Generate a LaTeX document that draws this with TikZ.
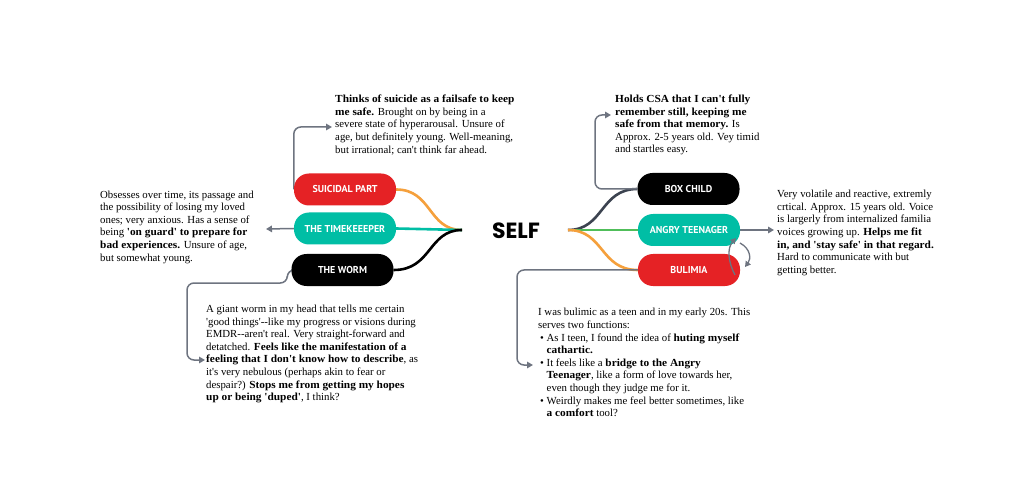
\documentclass[tikz,border=0pt]{standalone}
\usepackage{fontspec}
\setmainfont{Liberation Serif}[Ligatures=TeXOff, BoldFeatures={FakeStretch=1.05}]
\newfontfamily\pillfont{PT Sans}
\newfontfamily\selffont{Poppins}
\usetikzlibrary{arrows.meta,backgrounds}
\definecolor{pRed}{HTML}{E52225}
\definecolor{pTeal}{HTML}{00BEA5}
\definecolor{pBlack}{HTML}{000000}
\definecolor{cOrange}{HTML}{F5A03C}
\definecolor{cGreen}{HTML}{50BE5A}
\definecolor{cDark}{HTML}{3C4350}
\definecolor{cGray}{HTML}{6E7480}
\newcommand{\bul}{\makebox[8.5pt][l]{\hspace{2pt}\textbullet}}
\begin{document}
\begin{tikzpicture}[x=1pt,y=-1pt,
  pill/.style={rounded corners=15pt, minimum width=102pt, minimum height=32pt, inner sep=0pt,
    font=\pillfont\bfseries\fontsize{10}{12}\selectfont, text=white},
  desc/.style={anchor=west, align=left, inner sep=0pt, font=\fontsize{10.8}{12.6}\selectfont},
  conn/.style={draw=cGray, line width=1.5pt, rounded corners=7pt, -{Triangle[length=6pt,width=6.5pt]}},
  curvarr/.style={draw=cGray, line width=1.3pt, -{Triangle[length=5.5pt,width=6pt]}},
  branch/.style={line width=2.6pt},
]
\useasboundingbox (0,0) rectangle (1022,494);

% merge points
\coordinate (mL) at (462,230);
\coordinate (mR) at (568,230);

% nodes
\node[pill, fill=pRed] (sp) at (345,189.5) {SUICIDAL PART};
\node[pill, fill=pTeal] (tk) at (345,228.5) {THE TIMEKEEEPER};
\node[pill, fill=pBlack] (wm) at (342.5,270) {THE WORM};
\node[pill, fill=pBlack] (bc) at (688.5,189) {BOX CHILD};
\node[pill, fill=pTeal] (at) at (689,230) {ANGRY TEENAGER};
\node[pill, fill=pRed] (bu) at (689,270) {BULIMIA};
\node[font=\selffont\bfseries\fontsize{22}{22}\selectfont, inner sep=0pt] (self) at (516,231) {SELF};

% descriptions
\node[desc] (sptxt) at (335,125) {\textbf{Thinks of suicide as a failsafe to keep}\\
\textbf{me safe.} Brought on by being in a\\
severe state of hyperarousal. Unsure of\\
age, but definitely young. Well-meaning,\\
but irrational; can't think far ahead.};

\node[desc] (tktxt) at (100,227) {Obsesses over time, its passage and\\
the possibility of losing my loved\\
ones; very anxious. Has a sense of\\
being \textbf{'on guard' to prepare for}\\
\textbf{bad experiences.} Unsure of age,\\
but somewhat young.};

\node[desc] (wmtxt) at (206,354) {A giant worm in my head that tells me certain\\
'good things'--like my progress or visions during\\
EMDR--aren't real. Very straight-forward and\\
detatched. \textbf{Feels like the manifestation of a}\\
\textbf{feeling that I don't know how to describe}, as\\
it's very nebulous (perhaps akin to fear or\\
despair?) \textbf{Stops me from getting my hopes}\\
\textbf{up or being 'duped'}, I think?};

\node[desc] (bctxt) at (615,125) {\textbf{Holds CSA that I can't fully}\\
\textbf{remember still, keeping me}\\
\textbf{safe from that memory.} Is\\
Approx. 2-5 years old. Vey timid\\
and startles easy.};

\node[desc] (attxt) at (777,233) {Very volatile and reactive, extremly\\
crtical. Approx. 15 years old. Voice\\
is largerly from internalized familia\\
voices growing up. \textbf{Helps me fit}\\
\textbf{in, and 'stay safe' in that regard.}\\
Hard to communicate with but\\
getting better.};

\node[desc] (butxt) at (538,362.7) {I was bulimic as a teen and in my early 20s. This\\
serves two functions:\\
\bul As I teen, I found the idea of \textbf{huting myself}\\
\hspace*{8.5pt}\textbf{cathartic.}\\
\bul It feels like a \textbf{bridge to the Angry}\\
\hspace*{8.5pt}\textbf{Teenager}, like a form of love towards her,\\
\hspace*{8.5pt}even though they judge me for it.\\
\bul Weirdly makes me feel better sometimes, like\\
\hspace*{8.5pt}\textbf{a comfort} tool?};

% connector end coordinates
\coordinate (tkin) at (266,229);
\coordinate (w1) at (187,283);
\coordinate (wmin) at (205,360);
\coordinate (bcin) at (611,115);
\coordinate (atin) at (774,230);
\coordinate (buin) at (533,365);
\coordinate (spin) at (332,127);
\coordinate (a1s) at (735,275);
\coordinate (a1e) at (736,238);
\coordinate (a2s) at (740,243);
\coordinate (a2e) at (745,267);

\begin{scope}[on background layer]
  \fill[white] (0,0) rectangle (1022,494);
  % branches
  \draw[branch, cOrange] (sp.east) .. controls (432,189.5) and (428,230) .. (mL);
  \draw[branch, pTeal] (tk.east) -- (mL);
  \draw[branch, black] (wm.east) .. controls (432,270) and (428,230) .. (mL);
  \draw[branch, cDark] (mR) .. controls (604,230) and (600,189) .. (bc.west);
  \draw[branch, cGreen] (mR) -- (at.west);
  \draw[branch, cOrange] (mR) .. controls (604,230) and (600,270) .. (bu.west);
  % connectors
  \draw[conn] (sp.west) |- (spin);
  \draw[conn] (tk.west) -- (tkin);
  \draw[conn] (wm.west) -- ++(-4,0) |- (w1) |- (wmin);
  \draw[conn] (bc.west) -| ([xshift=-16pt]bcin) -- (bcin);
  \draw[conn] (at.east) -- (atin);
  \draw[conn] (bu.west) -| ([xshift=-16pt]buin) -- (buin);
\end{scope}

% curved arrows between Angry Teenager and Bulimia
\draw[curvarr] (a1s) .. controls (728,262) and (727,248) .. (a1e);
\draw[curvarr] (a2s) .. controls (751,249) and (751,259) .. (a2e);
\end{tikzpicture}
\end{document}
